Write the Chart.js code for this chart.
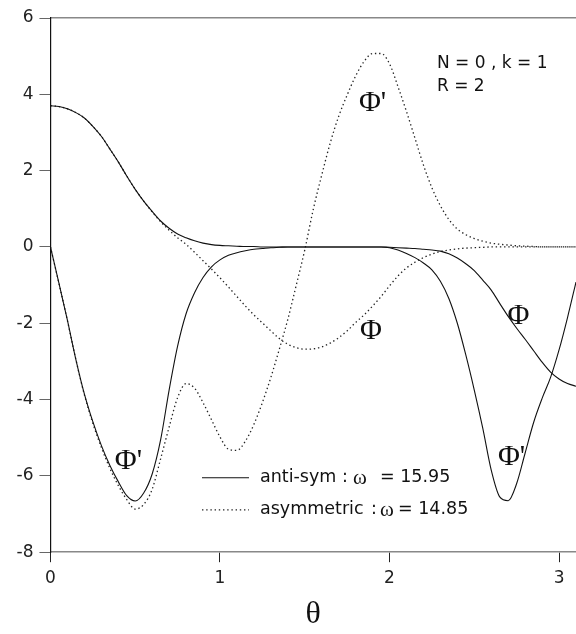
<!DOCTYPE html>
<html>
<head>
<meta charset="utf-8">
<script src="https://cdn.jsdelivr.net/npm/chart.js@4.4.1/dist/chart.umd.min.js"></script>
<style>
  html, body { margin: 0; padding: 0; background: #fff; }
  #wrap { width: 576px; height: 634px; }
</style>
</head>
<body>
<div id="wrap"><canvas id="chart"></canvas></div>
<script>
// theta grid (radians) and the four curves
const theta = [
  0.00, 0.05, 0.10, 0.15, 0.20, 0.25, 0.30, 0.35, 0.40, 0.45,
  0.50, 0.55, 0.60, 0.65, 0.70, 0.75, 0.80, 0.85, 0.90, 0.95,
  1.00, 1.05, 1.10, 1.15, 1.20, 1.25, 1.30, 1.35, 1.40, 1.45,
  1.50, 1.55, 1.60, 1.65, 1.70, 1.75, 1.80, 1.85, 1.90, 1.95,
  2.00, 2.05, 2.10, 2.15, 2.20, 2.25, 2.30, 2.35, 2.40, 2.45,
  2.50, 2.55, 2.60, 2.65, 2.70, 2.75, 2.80, 2.85, 2.90, 2.95,
  3.00, 3.05, 3.10
];

// anti-sym, omega = 15.95 (solid)
const phiAnti = [
  3.70, 3.68, 3.62, 3.52, 3.38, 3.16, 2.90, 2.57, 2.23, 1.86,
  1.51, 1.20, 0.93, 0.68, 0.49, 0.34, 0.24, 0.16, 0.10, 0.06,
  0.04, 0.03, 0.02, 0.01, 0.01, 0, 0, 0, 0, 0,
  0, 0, 0, 0, 0, 0, 0, 0, 0, 0,
  -0.01, -0.02, -0.03, -0.04, -0.06, -0.08, -0.11, -0.18, -0.29, -0.44,
  -0.62, -0.87, -1.13, -1.48, -1.82, -2.13, -2.42, -2.72, -3.02, -3.28,
  -3.46, -3.58, -3.65
];
const dphiAnti = [
  0, -0.95, -1.92, -2.95, -3.85, -4.58, -5.20, -5.72, -6.15, -6.52,
  -6.66, -6.45, -5.95, -5.05, -3.75, -2.60, -1.75, -1.20, -0.80, -0.52,
  -0.34, -0.22, -0.15, -0.10, -0.06, -0.04, -0.02, -0.01, 0, 0,
  0, 0, 0, 0, 0, 0, 0, 0, 0, 0,
  -0.02, -0.08, -0.17, -0.28, -0.42, -0.60, -0.90, -1.35, -2.00, -2.83,
  -3.75, -4.75, -5.85, -6.55, -6.65, -6.20, -5.40, -4.60, -3.97, -3.42,
  -2.70, -1.85, -0.92
];

// asymmetric, omega = 14.85 (dotted)
const phiAsym = [
  3.70, 3.68, 3.62, 3.52, 3.38, 3.16, 2.90, 2.57, 2.23, 1.86,
  1.51, 1.20, 0.92, 0.66, 0.44, 0.24, 0.07, -0.14, -0.36, -0.58,
  -0.81, -1.05, -1.30, -1.55, -1.78, -1.99, -2.20, -2.40, -2.55, -2.64,
  -2.68, -2.67, -2.62, -2.52, -2.38, -2.20, -1.98, -1.78, -1.55, -1.30,
  -1.02, -0.76, -0.55, -0.40, -0.28, -0.19, -0.12, -0.08, -0.05, -0.03,
  -0.02, -0.01, 0, 0, 0, 0, 0, 0, 0, 0,
  0, 0, 0
];
const dphiAsym = [
  0, -0.95, -1.93, -2.95, -3.87, -4.62, -5.25, -5.80, -6.25, -6.62,
  -6.87, -6.75, -6.35, -5.55, -4.72, -3.95, -3.58, -3.70, -4.08, -4.53,
  -4.98, -5.30, -5.33, -5.09, -4.65, -4.08, -3.42, -2.68, -1.90, -1.00,
  -0.08, 0.98, 1.88, 2.72, 3.42, 3.98, 4.48, 4.86, 5.07, 5.07,
  4.80, 4.20, 3.55, 2.85, 2.15, 1.55, 1.08, 0.72, 0.47, 0.32,
  0.22, 0.15, 0.10, 0.07, 0.05, 0.03, 0.02, 0.01, 0, 0,
  0, 0, 0
];

const xTicks = [0, 1, 2, 3];
const yTicks = [-8, -6, -4, -2, 0, 2, 4, 6];

const SANS = '"DejaVu Sans", sans-serif';
const SERIF = '"Liberation Serif", "DejaVu Serif", serif';
const SOLID = { borderColor: '#111', borderWidth: 1.1 };
const DOTTED = { borderColor: '#222', borderWidth: 1.3, borderDash: [1.4, 2.8] };

const toPoints = (values) => theta.map((t, i) => ({ x: t, y: values[i] }));

// text drawn on the plot: curve names, parameters, legend
const overlay = {
  id: 'overlay',
  afterDatasetsDraw(chart) {
    const { ctx, scales: { x, y } } = chart;
    const px = (v) => x.getPixelForValue(v);
    const py = (v) => y.getPixelForValue(v);
    ctx.save();
    ctx.fillStyle = '#111';
    ctx.textBaseline = 'middle';

    ctx.font = '30px ' + SERIF;
    ctx.textAlign = 'center';
    [
      ["Φ'", 1.90, 3.77],
      ["Φ'", 0.46, -5.61],
      ["Φ'", 2.72, -5.50],
      ['Φ', 2.76, -1.81],
      ['Φ', 1.89, -2.20]
    ].forEach(([t, a, b]) => ctx.fillText(t, px(a), py(b)));

    ctx.font = '17px ' + SANS;
    ctx.textAlign = 'left';
    ctx.fillText('N = 0 , k = 1', px(2.28), py(4.80));
    ctx.fillText('R = 2', px(2.28), py(4.19));

    // legend
    const rows = [
      { style: SOLID, name: 'anti-sym', colon: 342, omega: 353, eq: '= 15.95', eqX: 380, yv: -6.05 },
      { style: DOTTED, name: 'asymmetric', colon: 371, omega: 380, eq: '= 14.85', eqX: 398, yv: -6.89 }
    ];
    rows.forEach((r) => {
      const yy = py(r.yv);
      ctx.save();
      ctx.strokeStyle = r.style.borderColor;
      ctx.lineWidth = r.style.borderWidth;
      ctx.setLineDash(r.style.borderDash || []);
      ctx.beginPath();
      ctx.moveTo(202, yy);
      ctx.lineTo(249, yy);
      ctx.stroke();
      ctx.restore();
      ctx.font = '17.5px ' + SANS;
      ctx.fillText(r.name, 260, yy);
      ctx.fillText(':', r.colon, yy);
      ctx.fillText(r.eq, r.eqX, yy);
      ctx.font = '21px ' + SERIF;
      ctx.fillText('ω', r.omega, yy + 1);
    });
    ctx.restore();
  }
};

new Chart(document.getElementById('chart').getContext('2d'), {
  type: 'line',
  data: {
    datasets: [
      { label: 'Phi anti-sym', data: toPoints(phiAnti), ...SOLID },
      { label: "Phi' anti-sym", data: toPoints(dphiAnti), ...SOLID },
      { label: 'Phi asymmetric', data: toPoints(phiAsym), ...DOTTED },
      { label: "Phi' asymmetric", data: toPoints(dphiAsym), ...DOTTED }
    ]
  },
  options: {
    animation: false,
    responsive: true,
    maintainAspectRatio: false,
    layout: { padding: { left: 10.5, right: 0, top: 10, bottom: 0 } },
    elements: {
      point: { radius: 0 },
      line: { cubicInterpolationMode: 'monotone', fill: false }
    },
    plugins: {
      legend: { display: false },
      tooltip: { enabled: false }
    },
    scales: {
      x: {
        type: 'linear',
        min: 0,
        max: 3.1,
        afterBuildTicks: (axis) => { axis.ticks = xTicks.map((v) => ({ value: v })); },
        grid: { drawOnChartArea: false, tickLength: 10, color: '#222' },
        border: { color: '#888', width: 1.5 },
        ticks: { color: '#222', font: { family: SANS, size: 17 }, padding: 6, maxRotation: 0 },
        title: {
          display: true,
          text: 'θ',
          color: '#111',
          font: { family: SERIF, size: 32 },
          padding: { top: 1, bottom: 0 }
        }
      },
      top: {
        type: 'linear',
        axis: 'x',
        position: 'top',
        min: 0,
        max: 3.1,
        grid: { display: false },
        ticks: { display: false },
        border: { color: '#888', width: 1.5 }
      },
      y: {
        min: -8,
        max: 6,
        afterBuildTicks: (axis) => { axis.ticks = yTicks.map((v) => ({ value: v })); },
        grid: { drawOnChartArea: false, tickLength: 11, color: '#666' },
        border: { color: '#111', width: 1.2 },
        ticks: { color: '#222', font: { family: SANS, size: 17 }, padding: 6 }
      }
    }
  },
  plugins: [overlay]
});
</script>
</body>
</html>
